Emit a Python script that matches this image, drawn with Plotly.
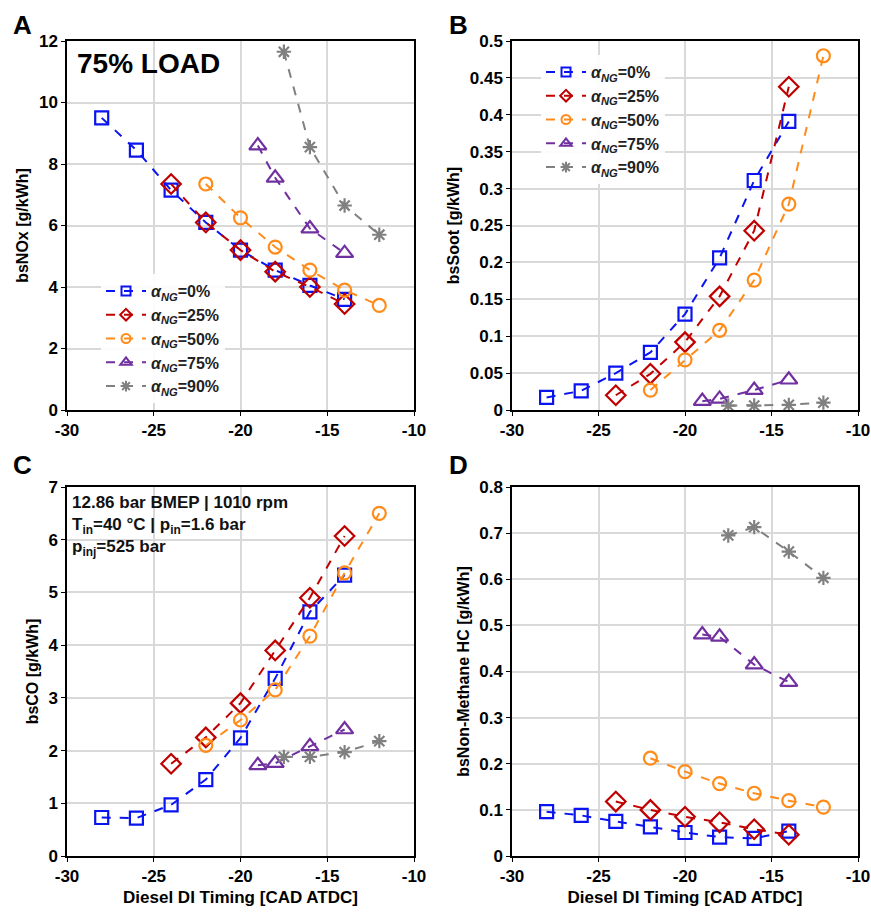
import plotly.graph_objects as go

# Diesel DI timing [CAD ATDC] per NG fraction
timing_0 = [-28, -26, -24, -22, -20, -18, -16, -14]
timing_25 = [-24, -22, -20, -18, -16, -14]
timing_50 = [-22, -20, -18, -16, -14, -12]
timing_75 = [-19, -18, -16, -14]
timing_90 = [-17.5, -16, -14, -12]

# bsNOx [g/kWh]
nox_0 = [9.5, 8.45, 7.15, 6.1, 5.2, 4.55, 4.05, 3.6]
nox_25 = [7.35, 6.1, 5.2, 4.5, 4.0, 3.45]
nox_50 = [7.35, 6.25, 5.3, 4.55, 3.9, 3.4]
nox_75 = [8.6, 7.55, 5.9, 5.1]
nox_90 = [11.65, 8.55, 6.65, 5.7]

# bsSoot [g/kWh]
soot_0 = [0.017, 0.026, 0.05, 0.078, 0.13, 0.206, 0.311, 0.391]
soot_25 = [0.02, 0.049, 0.092, 0.154, 0.243, 0.438]
soot_50 = [0.027, 0.068, 0.108, 0.176, 0.279, 0.48]
soot_75 = [0.012, 0.015, 0.027, 0.041]
soot_90 = [0.006, 0.006, 0.007, 0.01]

# bsCO [g/kWh]
co_0 = [0.73, 0.72, 0.97, 1.45, 2.24, 3.37, 4.63, 5.33]
co_25 = [1.75, 2.25, 2.9, 3.9, 4.9, 6.07]
co_50 = [2.1, 2.58, 3.15, 4.17, 5.37, 6.5]
co_75 = [1.72, 1.76, 2.08, 2.4]
co_90 = [1.88, 1.88, 1.97, 2.18]

# bsNon-Methane HC [g/kWh]
hc_0 = [0.096, 0.088, 0.075, 0.063, 0.051, 0.041, 0.038, 0.054]
hc_25 = [0.118, 0.1, 0.085, 0.073, 0.058, 0.046]
hc_50 = [0.212, 0.183, 0.157, 0.136, 0.12, 0.106]
hc_75 = [0.48, 0.475, 0.415, 0.377]
hc_90 = [0.695, 0.713, 0.66, 0.603]

series_labels = ["0%", "25%", "50%", "75%", "90%"]
timings = [timing_0, timing_25, timing_50, timing_75, timing_90]

# x tick labels with a plain hyphen, as in the original
x_tickvals = [-30, -25, -20, -15, -10]
x_ticktext = ["-30", "-25", "-20", "-15", "-10"]

FONT = "Liberation Sans, Arial, sans-serif"
colors = ["#0a14f0", "#c00000", "#ff8c1a", "#7030a0", "#808080"]
symbols = ["square-open", "diamond-open", "circle-open", "triangle-up-open", "asterisk-open"]
sizes = [13, 15, 13, 15, 12]
legend_sizes = [9, 9, 9, 10, 9]

panels = [
    # (xaxis, yaxis, values, legend)
    ("x", "y", [nox_0, nox_25, nox_50, nox_75, nox_90], "legend"),
    ("x2", "y2", [soot_0, soot_25, soot_50, soot_75, soot_90], "legend2"),
    ("x3", "y3", [co_0, co_25, co_50, co_75, co_90], None),
    ("x4", "y4", [hc_0, hc_25, hc_50, hc_75, hc_90], None),
]

fig = go.Figure()
for xa, ya, values, leg in panels:
    for i, vals in enumerate(values):
        name = "<i>α<sub>NG</sub></i>=" + series_labels[i]
        fig.add_trace(
            go.Scatter(
                x=timings[i], y=vals, xaxis=xa, yaxis=ya,
                mode="lines+markers", name=name,
                line=dict(color=colors[i], width=2, dash="dash"),
                marker=dict(symbol=symbols[i], size=sizes[i], color=colors[i],
                            line=dict(color=colors[i], width=2.2)),
                showlegend=False,
            )
        )
        if leg:
            # legend-only entry with smaller marker, like the original
            fig.add_trace(
                go.Scatter(
                    x=[None], y=[None], xaxis=xa, yaxis=ya,
                    mode="lines+markers", name=name,
                    line=dict(color=colors[i], width=2, dash="dash"),
                    marker=dict(symbol=symbols[i], size=legend_sizes[i], color=colors[i],
                                line=dict(color=colors[i], width=2)),
                    legend=leg,
                )
            )

# body margin is removed in the page, so the figure fills the window
OFF = 0
W, H = 871 - OFF, 912 - OFF


def px_x(p):
    return (p - OFF) / W


def px_y(p):
    return 1 - (p - OFF) / H


def dom_x(a, b):
    return [px_x(a), px_x(b)]


def dom_y(top, bottom):
    return [px_y(bottom), px_y(top)]


tickfont = dict(family=FONT, size=17, color="black", weight="bold")
titlefont = dict(family=FONT, size=16, color="black", weight="bold")


def xaxis(domain, anchor, title=None):
    d = dict(
        domain=domain, anchor=anchor, range=[-30, -10],
        tickmode="array", tickvals=x_tickvals, ticktext=x_ticktext,
        showline=True, mirror=True, linecolor="black", linewidth=1.5,
        ticks="outside", ticklen=4, tickcolor="black",
        showgrid=True, gridcolor="#d9d9d9", gridwidth=1.5,
        zeroline=False, tickfont=tickfont, automargin=False,
    )
    if title:
        d["title"] = dict(text=title, font=dict(titlefont, size=17), standoff=6)
    return d


def yaxis(domain, anchor, rng, dtick, title):
    return dict(
        domain=domain, anchor=anchor, range=rng, dtick=dtick,
        showline=True, mirror=True, linecolor="black", linewidth=1.5,
        ticks="outside", ticklen=4, tickcolor="black",
        showgrid=True, gridcolor="#d9d9d9", gridwidth=1.5,
        zeroline=False, tickfont=tickfont, automargin=False,
        title=dict(text=title, font=titlefont, standoff=6),
    )


legend_style = dict(
    bgcolor="rgba(255,255,255,0.9)", borderwidth=0,
    font=dict(family=FONT, size=16, color="#222", weight="bold"),
    tracegroupgap=0, itemwidth=40, xanchor="left", yanchor="top",
)

fig.update_layout(
    width=W, height=H,
    margin=dict(l=0, r=0, t=0, b=0),
    paper_bgcolor="white", plot_bgcolor="white",
    font=dict(family=FONT, color="black"),
    xaxis=xaxis(dom_x(67, 414), "y"),
    yaxis=yaxis(dom_y(41, 410), "x", [0, 12], 2, "bsNOx [g/kWh]"),
    xaxis2=xaxis(dom_x(512, 858), "y2"),
    yaxis2=yaxis(dom_y(41, 410), "x2", [0, 0.5], 0.05, "bsSoot [g/kWh]"),
    xaxis3=xaxis(dom_x(67, 414), "y3", "Diesel DI Timing [CAD ATDC]"),
    yaxis3=yaxis(dom_y(487, 856), "x3", [0, 7], 1, "bsCO [g/kWh]"),
    xaxis4=xaxis(dom_x(512, 858), "y4", "Diesel DI Timing [CAD ATDC]"),
    yaxis4=yaxis(dom_y(487, 856), "x4", [0, 0.8], 0.1, "bsNon-Methane HC [g/kWh]"),
    legend=dict(x=px_x(101), y=px_y(274), **legend_style),
    legend2=dict(x=px_x(541), y=px_y(55), **legend_style),
)

letters = [("A", 11, 8), ("B", 447, 8), ("C", 11, 448), ("D", 447, 448)]
for txt, px, py in letters:
    fig.add_annotation(
        text=txt, xref="paper", yref="paper", x=px_x(px), y=px_y(py),
        xanchor="left", yanchor="top", showarrow=False,
        font=dict(family=FONT, size=26, color="black", weight="bold"),
    )

fig.add_annotation(
    text="75% LOAD", xref="paper", yref="paper", x=px_x(75), y=px_y(46),
    xanchor="left", yanchor="top", showarrow=False,
    font=dict(family=FONT, size=28, color="black", weight="bold"),
)

fig.add_annotation(
    text="12.86 bar BMEP | 1010 rpm<br>T<sub>in</sub>=40 °C | p<sub>in</sub>=1.6 bar<br>p<sub>inj</sub>=525 bar",
    xref="paper", yref="paper", x=px_x(70), y=px_y(491),
    xanchor="left", yanchor="top", align="left", showarrow=False,
    font=dict(family=FONT, size=17, color="#111", weight="bold"),
)

fig.write_html(
    "out.html",
    config={"displayModeBar": False},
    post_script="document.body.style.margin='0';document.body.style.overflow='hidden';",
)
